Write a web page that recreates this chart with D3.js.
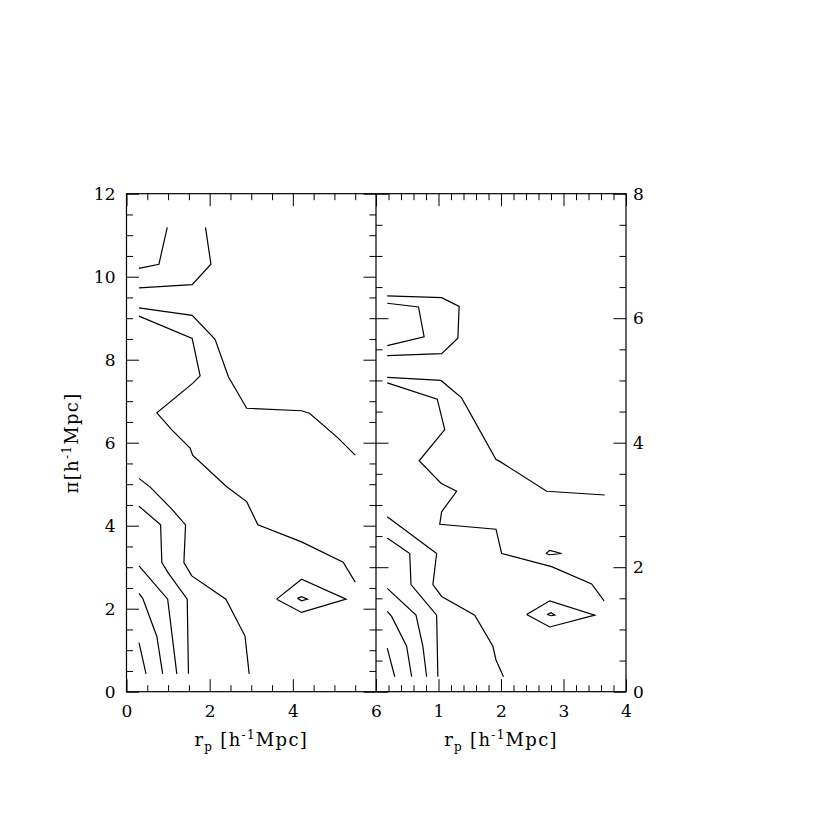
<!DOCTYPE html>
<html><head><meta charset="utf-8">
<script src="https://cdn.jsdelivr.net/npm/d3@7"></script>
<style>body{margin:0;background:#fff}svg{display:block}</style>
</head><body>
<svg id="c" width="817" height="817"></svg>
<script>
// ---------- axis tick labels ----------
const leftYTicks = [0, 2, 4, 6, 8, 10, 12];
const leftXTicks = [0, 2, 4, 6];
const rightXTicks = [1, 2, 3, 4];
const rightYTicks = [0, 2, 4, 6, 8];

// ---------- left panel contours (x = r_p, y = pi) ----------
const L1 = [[0.30,10.20],[0.78,10.30],[0.98,11.19]];
const L2 = [[0.30,9.73],[1.58,9.81],[2.03,10.30],[1.90,11.19]];
const L3 = [[0.30,9.25],[1.58,9.07],[2.13,8.49],[2.45,7.59],[2.89,6.83],[4.21,6.77],[4.40,6.71],[5.09,6.11],[5.50,5.70]];
const L4 = [[0.30,9.05],[1.58,8.51],[1.77,7.61],[1.59,7.43],[0.73,6.72],[1.09,6.31],[1.53,5.87],[1.59,5.70],[2.41,4.94],[2.89,4.58],[3.16,4.02],[4.21,3.61],[5.21,3.12],[5.50,2.64]];
const L5 = [[0.30,5.14],[0.57,4.93],[1.09,4.40],[1.42,4.02],[1.38,3.11],[1.57,2.79],[2.39,2.23],[2.85,1.34],[2.95,0.43]];
const L6 = [[0.30,4.47],[0.82,4.02],[0.85,3.11],[1.01,2.85],[1.46,2.23],[1.49,0.43]];
const L7 = [[0.30,3.03],[0.99,2.23],[1.21,0.43]];
const L8 = [[0.30,2.37],[0.39,2.25],[0.73,1.33],[0.87,0.43]];
const L9 = [[0.30,1.18],[0.47,0.43]];
const L10 = [[3.61,2.23],[4.21,2.71],[5.28,2.23],[4.21,1.91],[3.61,2.23]];
const L11 = [[4.11,2.25],[4.21,2.29],[4.35,2.23],[4.21,2.19],[4.11,2.25]];

// ---------- right panel contours ----------
const R1 = [[0.18,6.36],[1.05,6.33],[1.33,6.19],[1.31,5.68],[1.05,5.43],[0.18,5.40]];
const R2 = [[0.18,6.24],[0.68,6.18],[0.77,5.70],[0.18,5.56]];
const R3 = [[0.18,5.05],[1.04,5.00],[1.37,4.72],[1.92,3.73],[1.98,3.70],[2.73,3.22],[3.66,3.16]];
const R4 = [[0.18,4.96],[0.98,4.70],[1.10,4.21],[0.69,3.71],[1.04,3.35],[1.29,3.22],[1.05,2.89],[1.02,2.69],[1.92,2.61],[2.01,2.22],[2.81,2.01],[3.45,1.73],[3.65,1.46]];
const R5 = [[2.72,2.22],[2.78,2.27],[2.97,2.22],[2.78,2.20],[2.72,2.22]];
const R6 = [[2.41,1.24],[2.78,1.46],[3.50,1.23],[2.78,1.04],[2.41,1.24]];
const R7 = [[2.74,1.24],[2.80,1.27],[2.86,1.23],[2.80,1.22],[2.74,1.24]];
const R8 = [[0.18,2.81],[0.97,2.22],[0.91,1.72],[1.05,1.53],[1.58,1.23],[1.87,0.73],[1.92,0.51],[2.04,0.24]];
const R9 = [[0.18,2.47],[0.54,2.22],[0.56,1.72],[0.97,1.23],[0.99,0.24]];
const R10 = [[0.18,1.66],[0.64,1.23],[0.75,0.73],[0.81,0.24]];
const R11 = [[0.18,1.29],[0.25,1.21],[0.49,0.73],[0.57,0.24]];
const R12 = [[0.18,0.70],[0.30,0.24]];

const leftContours = [L1,L2,L3,L4,L5,L6,L7,L8,L9,L10,L11];
const rightContours = [R1,R2,R3,R4,R5,R6,R7,R8,R9,R10,R11,R12];

// ---------- layout ----------
const X0 = 126.5, XM = 376, X1 = 626, YT = 193.7, YB = 691.7;
const xL = d3.scaleLinear().domain([0,6]).range([X0, XM]);
const yL = d3.scaleLinear().domain([0,12]).range([YB, YT]);
const xR = d3.scaleLinear().domain([0,4]).range([XM, X1]);
const yR = d3.scaleLinear().domain([0,8]).range([YB, YT]);

const svg = d3.select('#c');
const FONT = '"DejaVu Serif", "Liberation Serif", serif';
const MAJ = 12.5, MIN = 6.5;

function tickSet(axisFn, scale, values, size, tx, ty) {
  const g = svg.append('g').attr('transform', `translate(${tx},${ty})`)
    .call(axisFn(scale).tickValues(values).tickSize(size).tickFormat(''));
  g.select('.domain').remove();
  g.selectAll('line').attr('stroke', '#000').attr('stroke-width', 1);
}
function split(range, step, majStep) {
  const n = Math.round((range[1]-range[0])/step);
  const all = d3.range(0, n+1).map(i => +(range[0] + i*step).toFixed(4));
  const isMaj = v => Math.abs(v/majStep - Math.round(v/majStep)) < 1e-6;
  return {maj: all.filter(isMaj), min: all.filter(v => !isMaj(v))};
}
const lx = split([0,6], 0.5, 2), ly = split([0,12], 0.5, 2);
const rx = split([0,4], 0.2, 1), ry = split([0,8], 0.5, 2);

// left panel ticks
[[lx.maj, MAJ],[lx.min, MIN]].forEach(([v,s]) => {
  tickSet(d3.axisTop, xL, v, s, 0, YB);
  tickSet(d3.axisBottom, xL, v, s, 0, YT);
});
[[ly.maj, MAJ],[ly.min, MIN]].forEach(([v,s]) => {
  tickSet(d3.axisRight, yL, v, s, X0, 0);
  tickSet(d3.axisLeft, yL, v, s, XM, 0);
});
// right panel ticks
[[rx.maj, MAJ],[rx.min, MIN]].forEach(([v,s]) => {
  tickSet(d3.axisTop, xR, v, s, 0, YB);
  tickSet(d3.axisBottom, xR, v, s, 0, YT);
});
[[ry.maj, MAJ],[ry.min, MIN]].forEach(([v,s]) => {
  tickSet(d3.axisRight, yR, v, s, XM, 0);
  tickSet(d3.axisLeft, yR, v, s, X1, 0);
});

// frames
svg.append('rect').attr('x', X0).attr('y', YT).attr('width', X1-X0).attr('height', YB-YT)
  .attr('fill','none').attr('stroke','#000').attr('stroke-width',1.2);
svg.append('line').attr('x1', XM).attr('x2', XM).attr('y1', YT).attr('y2', YB)
  .attr('stroke','#000').attr('stroke-width',1.2);

// tick labels
function labels(axisFn, scale, values, pad, tx, ty) {
  const g = svg.append('g').attr('transform', `translate(${tx},${ty})`)
    .call(axisFn(scale).tickValues(values).tickSize(0).tickPadding(pad).tickFormat(d3.format('d')));
  g.select('.domain').remove();
  g.selectAll('text').attr('font-family', FONT).attr('font-size', 17).attr('fill', '#000');
}
labels(d3.axisLeft, yL, leftYTicks, 11, X0, 0);
labels(d3.axisBottom, xL, leftXTicks, 13, 0, YB);
labels(d3.axisBottom, xR, rightXTicks, 13, 0, YB);
labels(d3.axisRight, yR, rightYTicks, 7, X1, 0);

// axis titles
function rpLabel(cx) {
  const t = svg.append('text').attr('x', cx).attr('y', 746).attr('text-anchor','middle')
    .attr('font-family', FONT).attr('font-size', 18).attr('letter-spacing', 1.3).attr('fill','#000');
  t.append('tspan').text('r');
  t.append('tspan').attr('font-size', 12).attr('dy', 5).text('p');
  t.append('tspan').attr('dy', -5).text('\u00a0[h');
  t.append('tspan').attr('font-size', 12).attr('dy', -7).text('-1');
  t.append('tspan').attr('dy', 7).text('Mpc]');
}
rpLabel((X0+XM)/2);
rpLabel((XM+X1)/2);
{
  const t = svg.append('text').attr('transform', 'translate(78,443) rotate(-90)').attr('text-anchor','middle')
    .attr('font-family', FONT).attr('font-size', 18).attr('letter-spacing', 1.3).attr('fill','#000');
  t.append('tspan').text('\u03c0[h');
  t.append('tspan').attr('font-size', 12).attr('dy', -7).text('-1');
  t.append('tspan').attr('dy', 7).text('Mpc]');
}

// contours
const lineL = d3.line().x(d => xL(d[0])).y(d => yL(d[1]));
const lineR = d3.line().x(d => xR(d[0])).y(d => yR(d[1]));
svg.append('g').selectAll('path').data(leftContours).join('path')
  .attr('d', lineL).attr('fill','none').attr('stroke','#000').attr('stroke-width',1.2);
svg.append('g').selectAll('path').data(rightContours).join('path')
  .attr('d', lineR).attr('fill','none').attr('stroke','#000').attr('stroke-width',1.2);
</script>
</body></html>
